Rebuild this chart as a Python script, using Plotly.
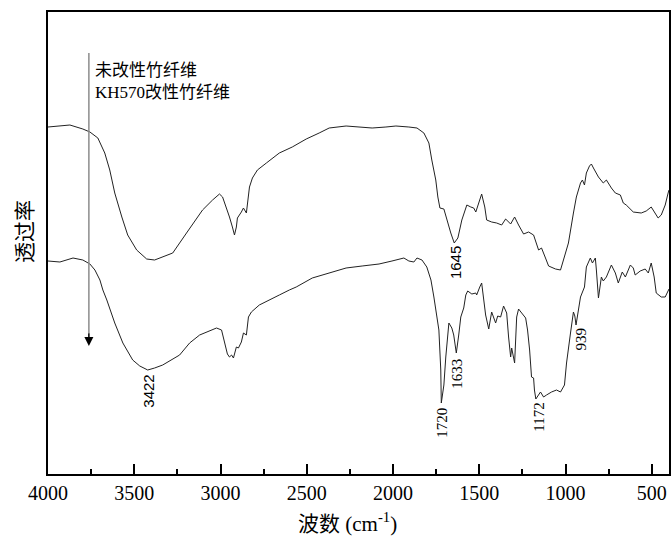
import plotly.graph_objects as go

# FTIR spectra of untreated and KH570-modified bamboo fibre (transmittance, a.u.)
wn_raw = [4000, 3873, 3798, 3757, 3711, 3671, 3642, 3613, 3572, 3538, 3486, 3428, 3382, 3353,
          3277, 3197, 3104, 3046, 3006, 2988, 2965, 2948, 2931, 2919, 2908, 2902, 2879, 2867,
          2850, 2844, 2832, 2815, 2786, 2734, 2659, 2584, 2503, 2428, 2370, 2272, 2179, 2121,
          2041, 1983, 1908, 1861, 1821, 1792, 1775, 1752, 1740, 1728, 1705, 1688, 1665, 1645,
          1624, 1601, 1572, 1549, 1532, 1520, 1503, 1486, 1468, 1457, 1428, 1399, 1370, 1347,
          1318, 1295, 1272, 1243, 1214, 1185, 1156, 1139, 1116, 1098, 1058, 1029, 1000, 983,
          954, 937, 913, 902, 890, 879, 861, 850, 838, 809, 781, 763, 734, 711, 682, 665, 648,
          607, 561, 532, 503, 480, 463, 445, 422, 405, 400]
t_raw = [347, 349, 345, 342, 336, 321, 304, 281, 257, 239, 224, 215, 214, 216,
         221, 241, 264, 274, 280, 277, 266, 257, 247, 239, 247, 256, 262, 266,
         261, 271, 287, 296, 304, 311, 321, 327, 335, 341, 346, 348, 347, 346,
         347, 348, 347, 346, 341, 331, 314, 294, 277, 266, 265, 254, 241, 231,
         236, 254, 269, 267, 266, 262, 272, 280, 267, 254, 252, 251, 249, 255,
         250, 257, 249, 240, 242, 239, 224, 226, 216, 208, 205, 204, 221, 231,
         261, 277, 291, 294, 289, 301, 308, 310, 306, 297, 291, 294, 286, 281, 279, 271, 269,
         262, 261, 263, 267, 261, 256, 259, 269, 281, 284]

wn_kh = [4000, 3931, 3855, 3798, 3757, 3728, 3699, 3682, 3659, 3613, 3566, 3509, 3468, 3422,
         3382, 3335, 3237, 3179, 3121, 3064, 3023, 2994, 2977, 2960, 2948, 2936, 2925, 2908,
         2896, 2879, 2867, 2850, 2838, 2821, 2775, 2699, 2659, 2601, 2561, 2468, 2370, 2272,
         2179, 2081, 2006, 1937, 1908, 1879, 1861, 1832, 1804, 1780, 1763, 1752, 1734, 1723,
         1720, 1705, 1694, 1676, 1659, 1648, 1633, 1619, 1607, 1590, 1578, 1567, 1543, 1520,
         1515, 1497, 1486, 1463, 1445, 1428, 1405, 1393, 1376, 1359, 1341, 1330, 1318, 1312,
         1295, 1283, 1272, 1254, 1231, 1220, 1208, 1197, 1185, 1180, 1172, 1145, 1127, 1110,
         1081, 1052, 1029, 1006, 994, 971, 954, 946, 939, 913, 902, 890, 879, 856, 844, 827,
         821, 809, 792, 781, 763, 734, 711, 694, 671, 653, 624, 607, 596, 567, 538, 520, 503,
         486, 474, 445, 422, 411, 400]
t_kh = [213, 212, 216, 214, 210, 204, 194, 184, 174, 151, 131, 114, 108, 104,
        106, 109, 119, 131, 139, 143, 146, 144, 131, 120, 117, 119, 116, 127,
        126, 132, 141, 139, 157, 162, 169, 176, 179, 184, 187, 196, 201, 206,
        208, 210, 213, 216, 213, 212, 216, 214, 207, 194, 177, 164, 144, 104,
        71, 89, 117, 151, 146, 139, 121, 139, 157, 166, 179, 183, 180, 181,
        179, 187, 191, 159, 145, 162, 151, 158, 157, 168, 161, 137, 117, 126,
        111, 157, 165, 161, 156, 144, 124, 97, 96, 84, 75, 82, 77, 79,
        82, 84, 82, 89, 111, 141, 162, 158, 149, 177, 182, 187, 207, 216, 211, 216,
        204, 176, 197, 193, 197, 209, 201, 191, 202, 197, 209, 206, 199, 203, 205, 201, 211,
        197, 181, 177, 177, 182, 185]

# peak labels: (text, wavenumber, transmittance of label centre, font)
peak_labels = [
    ("3422", 3422, 83, "Liberation Sans"),
    ("1645", 1640, 211, "Liberation Sans"),
    ("1720", 1717, 51, "Liberation Serif"),
    ("1633", 1630, 100, "Liberation Serif"),
    ("1172", 1155, 57, "Liberation Serif"),
    ("939", 913, 135, "Liberation Serif"),
]

series_names = ["未改性竹纤维", "KH570改性竹纤维"]
x_ticks = [4000, 3500, 3000, 2500, 2000, 1500, 1000, 500]
x_minor = [3750, 3250, 2750, 2250, 1750, 1250, 750]

line_style = dict(color="#222222", width=1)
fig = go.Figure()
fig.add_trace(go.Scatter(x=wn_raw, y=t_raw, mode="lines", line=line_style,
                         name=series_names[0], showlegend=False))
fig.add_trace(go.Scatter(x=wn_kh, y=t_kh, mode="lines", line=line_style,
                         name=series_names[1], showlegend=False))

serif = "Liberation Serif, Noto Sans CJK SC"

# peak wavenumber labels
for text, x, y, fam in peak_labels:
    fig.add_annotation(x=x, y=y, text=text, showarrow=False, textangle=-90,
                       font=dict(family=fam, size=15, color="black"),
                       xanchor="center", yanchor="middle")

# series labels with downward arrow
fig.add_shape(type="line", x0=3763, x1=3763, y0=421, y1=140,
              line=dict(color="#8c8c8c", width=1.5))
fig.add_annotation(x=3763, y=128, ax=3763, ay=142, axref="x", ayref="y",
                   showarrow=True, arrowhead=2, arrowsize=1.2, arrowwidth=1.5,
                   arrowcolor="black", text="")
fig.add_annotation(x=3737, y=404, text=series_names[0], showarrow=False,
                   xanchor="left", yanchor="middle",
                   font=dict(family=serif, size=17, color="black"))
fig.add_annotation(x=3737, y=382, text=series_names[1], showarrow=False,
                   xanchor="left", yanchor="middle",
                   font=dict(family=serif, size=17, color="black"))

# axis titles
fig.add_annotation(xref="paper", yref="paper", x=0.483, y=-0.104,
                   text="波数 (cm<sup>-1</sup>)", showarrow=False,
                   xanchor="center", yanchor="middle",
                   font=dict(family=serif, size=21, color="black"))
fig.add_annotation(xref="paper", yref="paper", x=-0.037, y=0.524,
                   text="透过率", showarrow=False, textangle=-90,
                   xanchor="center", yanchor="middle",
                   font=dict(family=serif, size=21, color="black"))

fig.update_layout(
    width=672, height=540,
    margin=dict(l=48, r=1, t=12, b=66),
    plot_bgcolor="white", paper_bgcolor="white",
    showlegend=False,
)
fig.update_xaxes(range=[4000, 400], tickvals=x_ticks, ticks="inside", ticklen=10,
                 tickwidth=1.5, tickcolor="black", showline=True, linecolor="black",
                 linewidth=2, mirror=True, showgrid=False, zeroline=False,
                 tickfont=dict(family="Liberation Serif", size=20, color="black"),
                 minor=dict(tickvals=x_minor, ticks="inside", ticklen=5,
                            tickwidth=1.5, tickcolor="black"))
fig.update_yaxes(range=[0, 462], showticklabels=False, ticks="", showline=True,
                 linecolor="black", linewidth=2, mirror=True, showgrid=False,
                 zeroline=False)

fig.write_html("out.html")
